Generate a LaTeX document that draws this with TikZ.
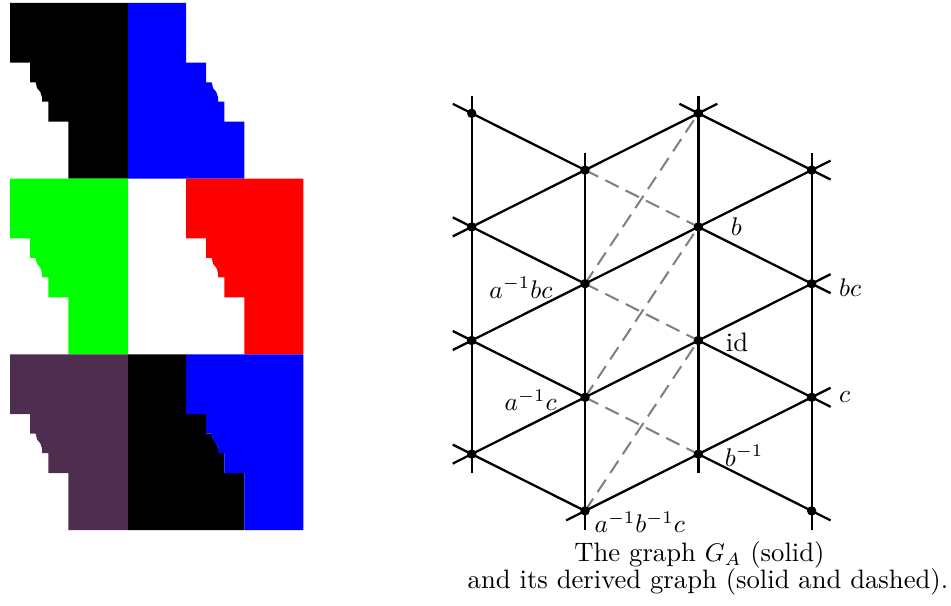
\documentclass[tikz,border=0pt]{standalone}
\usetikzlibrary{positioning}

\definecolor{plum}{RGB}{78,45,78}

% one staircase boundary, from top of a band to its bottom
\newcommand{\stairs}{-- ++(0,59.7) -- ++(20,0) -- ++(0,19.6) -- ++(5.7,0) -- ++(1.3,5.7)
    -- ++(3.3,4) -- ++(1.7,5) -- ++(0,4.7) -- ++(6.3,0) -- ++(0,20) -- ++(20,0) -- ++(0,57)}

\begin{document}
\begin{tikzpicture}[x=0.392pt,y=-0.392pt,
        font=\fontsize{10.45}{12.5}\selectfont,
        edge/.style={line width=0.9pt,black},
        derived/.style={line width=0.8pt,gray,dash pattern=on 5.8pt off 3.1pt},
        dot/.style={black}]
        \useasboundingbox (0,0) rectangle (951,606);

        % left picture: band 1
        \fill[black] (10,3) \stairs -- (128,178.7) -- (128,3) -- cycle;
        \fill[blue] (128,3) -- (186,3) \stairs -- (128,178.7) -- cycle;

        % band 2
        \fill[green] (10,178.7) \stairs -- (128,354.4) -- (128,178.7) -- cycle;
        \fill[red] (186,178.7) \stairs -- (303.3,354.4) -- (303.3,178.7) -- cycle;

        % band 3
        \fill[plum] (10,354.4) \stairs -- (128,530.1) -- (128,354.4) -- cycle;
        \fill[black] (128,354.4) -- (186,354.4) \stairs -- (128,530.1) -- cycle;
        \fill[blue] (186,354.4) \stairs -- (303.3,530.1) -- (303.3,354.4) -- cycle;

        % vertices of the graph
        \foreach \i in {0,2}
            \foreach \j in {0,2,4,6}
                \coordinate (v-\i-\j) at ({471.7+113.33*\i},{113.3+56.8*\j});
        \foreach \i in {1,3}
            \foreach \j in {1,3,5,7}
                \coordinate (v-\i-\j) at ({471.7+113.33*\i},{113.3+56.8*\j});

        % derived edges (dashed)
        \foreach \a/\b in {1-1/2-2,1-3/2-4,1-5/2-6,1-3/2-0,1-5/2-2,1-7/2-4}
            \draw[derived] (v-\a) -- (v-\b);

        % columns
        \foreach \i/\a/\b in {0/0/6,1/1/7,2/0/6,3/1/7}
            \draw[edge,shorten <=-6.8pt,shorten >=-7.3pt] (v-\i-\a) -- (v-\i-\b);

        % rising edges
        \draw[edge,shorten <=-8.3pt,shorten >=-8.3pt] (v-0-2) -- (v-1-1) -- (v-2-0);
        \draw[edge,shorten <=-8.3pt,shorten >=-8.3pt] (v-0-4) -- (v-1-3) -- (v-2-2) -- (v-3-1);
        \draw[edge,shorten <=-8.3pt,shorten >=-8.3pt] (v-0-6) -- (v-1-5) -- (v-2-4) -- (v-3-3);
        \draw[edge,shorten <=-8.3pt,shorten >=-8.3pt] (v-1-7) -- (v-2-6) -- (v-3-5);

        % falling edges
        \foreach \j/\k in {0/1,2/3,4/5,6/7}
            \draw[edge,shorten <=-8.3pt] (v-0-\j) -- (v-1-\k);
        \draw[edge,shorten <=-8.3pt,shorten >=-8.3pt] (v-2-0) -- (v-3-1);
        \foreach \j/\k in {2/3,4/5,6/7}
            \draw[edge,shorten >=-8.3pt] (v-2-\j) -- (v-3-\k);

        % dots
        \foreach \i in {0,2}
            \foreach \j in {0,2,4,6}
                \fill[dot] (v-\i-\j) circle (1.85pt);
        \foreach \i in {1,3}
            \foreach \j in {1,3,5,7}
                \fill[dot] (v-\i-\j) circle (1.85pt);

        % labels
        \node[right=9.2pt of v-2-2] (lbl-b) {$b$};
        \node[right=7.3pt of v-2-4, yshift=-0.9pt] (lbl-id) {id};
        \node[right=6.9pt of v-2-6, yshift=-0.6pt] (lbl-binv) {$b^{-1}$};
        \node[right=7.2pt of v-3-3, yshift=-1.4pt] (lbl-bc) {$bc$};
        \node[right=7.2pt of v-3-5] (lbl-c) {$c$};
        \node[left=9.3pt of v-1-3, yshift=-1.6pt] (lbl-abc) {$a^{-1}bc$};
        \node[left=7.6pt of v-1-5, yshift=-1.3pt] (lbl-ac) {$a^{-1}c$};
        \node[right=0.2pt of v-1-7, yshift=-4.5pt] (lbl-abinvc) {$a^{-1}b^{-1}c$};

        % caption
        \node[anchor=base] (cap-top) at (699.5,561.7) {The graph $G_A$ (solid)};
        \node[anchor=base] (cap-bottom) at (708,588.3) {and its derived graph (solid and dashed).};
    \end{tikzpicture}
\end{document}
